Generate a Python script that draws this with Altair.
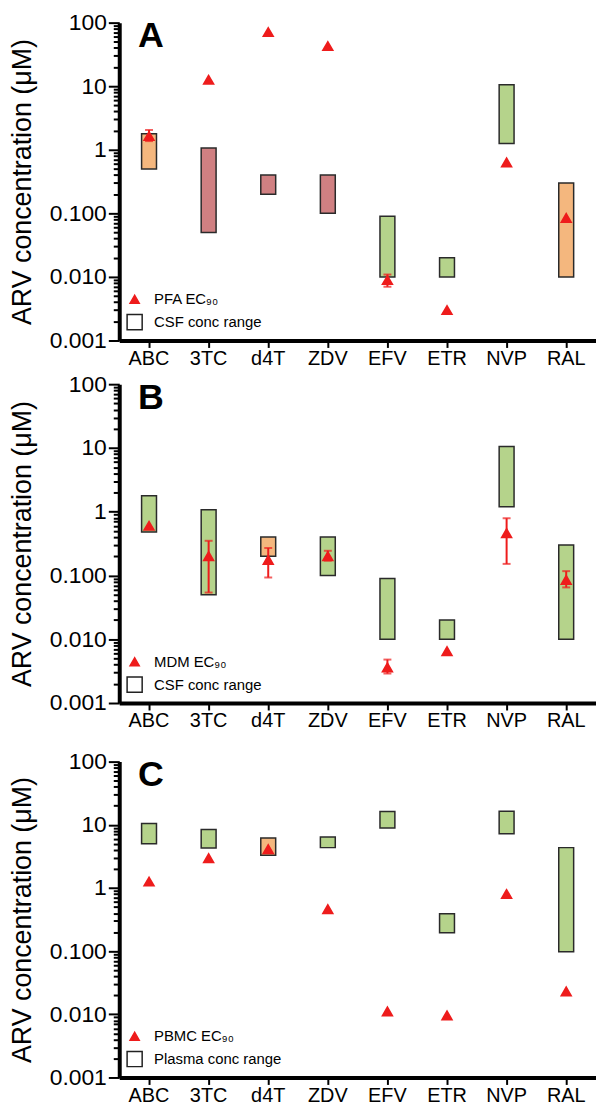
import altair as alt
import pandas as pd

drugs = ["ABC", "3TC", "d4T", "ZDV", "EFV", "ETR", "NVP", "RAL"]

# Panel A: PFA EC90 vs CSF concentration range
lo_A = [0.5, 0.05, 0.2, 0.1, 0.01, 0.01, 1.26, 0.01]
hi_A = [1.78, 1.07, 0.4, 0.4, 0.09, 0.02, 10.5, 0.3]
col_A = ["orange", "pink", "pink", "pink", "green", "green", "green", "orange"]
ec_A = [1.64, 12.6, 71, 42.7, 0.0089, 0.003, 0.63, 0.0845]
elo_A = [1.37, None, None, None, 0.007, None, None, None]
ehi_A = [2.05, None, None, None, 0.0109, None, None, None]

# Panel B: MDM EC90 vs CSF concentration range
lo_B = [0.48, 0.05, 0.2, 0.1, 0.01, 0.01, 1.2, 0.01]
hi_B = [1.78, 1.07, 0.4, 0.4, 0.09, 0.02, 10.5, 0.3]
col_B = ["green", "green", "orange", "green", "green", "green", "green", "green"]
ec_B = [0.6, 0.2, 0.175, 0.2, 0.0036, 0.0065, 0.46, 0.085]
elo_B = [None, 0.054, 0.093, 0.171, 0.0029, None, 0.152, 0.065]
ehi_B = [None, 0.35, 0.27, 0.244, 0.0048, None, 0.79, 0.117]

# Panel C: PBMC EC90 vs plasma concentration range
lo_C = [5.0, 4.3, 3.3, 4.35, 8.9, 0.196, 7.2, 0.098]
hi_C = [10.5, 8.45, 6.2, 6.4, 16.2, 0.39, 16.4, 4.35]
col_C = ["green", "green", "orange", "green", "green", "green", "green", "green"]
ec_C = [1.26, 2.96, 4.1, 0.46, 0.0111, 0.0096, 0.8, 0.023]
elo_C = [None] * 8
ehi_C = [None] * 8

palette = {"orange": "#F4B77E", "pink": "#D08082", "green": "#B5D38B"}
RED = "#EE1C1C"
FONT = "Liberation Sans"

tick_vals = [round(m * 10.0 ** e, 6) for e in range(-3, 2) for m in range(1, 10)] + [100.0]
is_decade = "abs(log(datum.value)/LN10 - round(log(datum.value)/LN10)) < 0.001"
label_expr = (
    f"({is_decade}) ? (datum.value >= 1 ? format(datum.value, 'd') : format(datum.value, '.3f')) : ''"
)

W = 480
RES = dict(shape="independent", fill="independent", stroke="independent", size="independent")


def panel(letter, lo, hi, cols, ec, elo, ehi, ec_label, range_label, H):
    x_enc = alt.X(
        "drug:N",
        sort=drugs,
        scale=alt.Scale(domain=drugs, paddingInner=0, paddingOuter=0),
        axis=alt.Axis(
            title=None, labelAngle=0, labelFontSize=20, labelColor="black",
            tickSize=7, tickWidth=2, tickColor="black",
            domainWidth=4, domainColor="black", labelPadding=1,
        ),
    )
    y_scale = alt.Scale(type="log", domain=[0.001, 100])
    y_axis = alt.Axis(
        title="ARV concentration (μM)", titleFontSize=27, titleFontWeight="normal",
        titleColor="black", titlePadding=13,
        values=tick_vals, labelExpr=label_expr, labelFontSize=23, labelColor="black",
        labelPadding=2, labelOverlap=False, labelBound=False, labelFlush=False,
        tickSize={"condition": {"test": is_decade, "value": 11}, "value": 6},
        tickWidth=2, tickColor="black", domainWidth=4, domainColor="black",
        grid=False,
    )

    df_box = pd.DataFrame({
        "drug": drugs, "lo": lo, "hi": hi,
        "fill": [palette[c] for c in cols],
    })
    df_ec = pd.DataFrame({"drug": drugs, "ec": ec, "series": [ec_label] * len(drugs)})
    err_rows = [
        {"drug": d, "elo": a, "ehi": b}
        for d, a, b in zip(drugs, elo, ehi) if a is not None
    ]
    df_err = pd.DataFrame(err_rows, columns=["drug", "elo", "ehi"])

    boxes = alt.Chart(df_box).mark_bar(size=15, stroke="#2a2a2a", strokeWidth=1.5).encode(
        x=x_enc,
        y=alt.Y("lo:Q", scale=y_scale, axis=y_axis),
        y2="hi:Q",
        fill=alt.Fill("fill:N", scale=None),
    )

    layers = [boxes]
    if len(df_err):
        err = alt.Chart(df_err).mark_rule(color=RED, strokeWidth=2).encode(
            x=alt.X("drug:N", sort=drugs),
            y=alt.Y("elo:Q", scale=y_scale),
            y2="ehi:Q",
        )
        cap_lo = alt.Chart(df_err).mark_tick(color=RED, size=8, thickness=2, orient="horizontal").encode(
            x=alt.X("drug:N", sort=drugs),
            y=alt.Y("elo:Q", scale=y_scale),
        )
        cap_hi = alt.Chart(df_err).mark_tick(color=RED, size=8, thickness=2, orient="horizontal").encode(
            x=alt.X("drug:N", sort=drugs),
            y=alt.Y("ehi:Q", scale=y_scale),
        )
        layers += [err, cap_lo, cap_hi]

    leg = alt.Legend(
        title=None, orient="bottom-left", offset=7, padding=0,
        labelFontSize=15, labelColor="black", labelFont=FONT,
        symbolStrokeWidth=1.5, rowPadding=3, labelOffset=11,
    )
    dom = [ec_label, range_label]
    pts = alt.Chart(df_ec).mark_point(filled=True, opacity=1).encode(
        x=alt.X("drug:N", sort=drugs),
        y=alt.Y("ec:Q", scale=y_scale),
        shape=alt.Shape("series:N", scale=alt.Scale(domain=dom, range=["triangle-up", "square"]), legend=leg),
        fill=alt.Fill("series:N", scale=alt.Scale(domain=dom, range=[RED, "white"]), legend=leg),
        stroke=alt.Stroke("series:N", scale=alt.Scale(domain=dom, range=[RED, "#222222"]), legend=leg),
        size=alt.Size("series:N", scale=alt.Scale(domain=dom, range=[85, 230]), legend=leg),
    )
    layers.append(pts)

    lab = alt.Chart(pd.DataFrame({"label": [letter]})).mark_text(
        fontSize=36, fontWeight="bold", align="left", baseline="alphabetic", color="black", font=FONT,
    ).encode(text="label:N", x=alt.value(19), y=alt.value(25))
    layers.append(lab)

    return alt.layer(*layers).properties(width=W, height=H).resolve_scale(**RES)


pA = panel("A", lo_A, hi_A, col_A, ec_A, elo_A, ehi_A, "PFA EC₉₀", "CSF conc range", 320)
pB = panel("B", lo_B, hi_B, col_B, ec_B, elo_B, ehi_B, "MDM EC₉₀", "CSF conc range", 321)
pC = panel("C", lo_C, hi_C, col_C, ec_C, elo_C, ehi_C, "PBMC EC₉₀", "Plasma conc range", 318)

top = alt.vconcat(pA, pB, spacing=5).resolve_scale(**RES).resolve_legend(**RES)

chart = alt.vconcat(top, pC, spacing=20).resolve_scale(**RES).resolve_legend(**RES).properties(
    padding={"left": 0, "top": 0, "right": 0, "bottom": 0}
).configure(
    font=FONT,
).configure_view(stroke=None)

chart.save("out.html", embed_options={"renderer": "svg", "actions": False})
